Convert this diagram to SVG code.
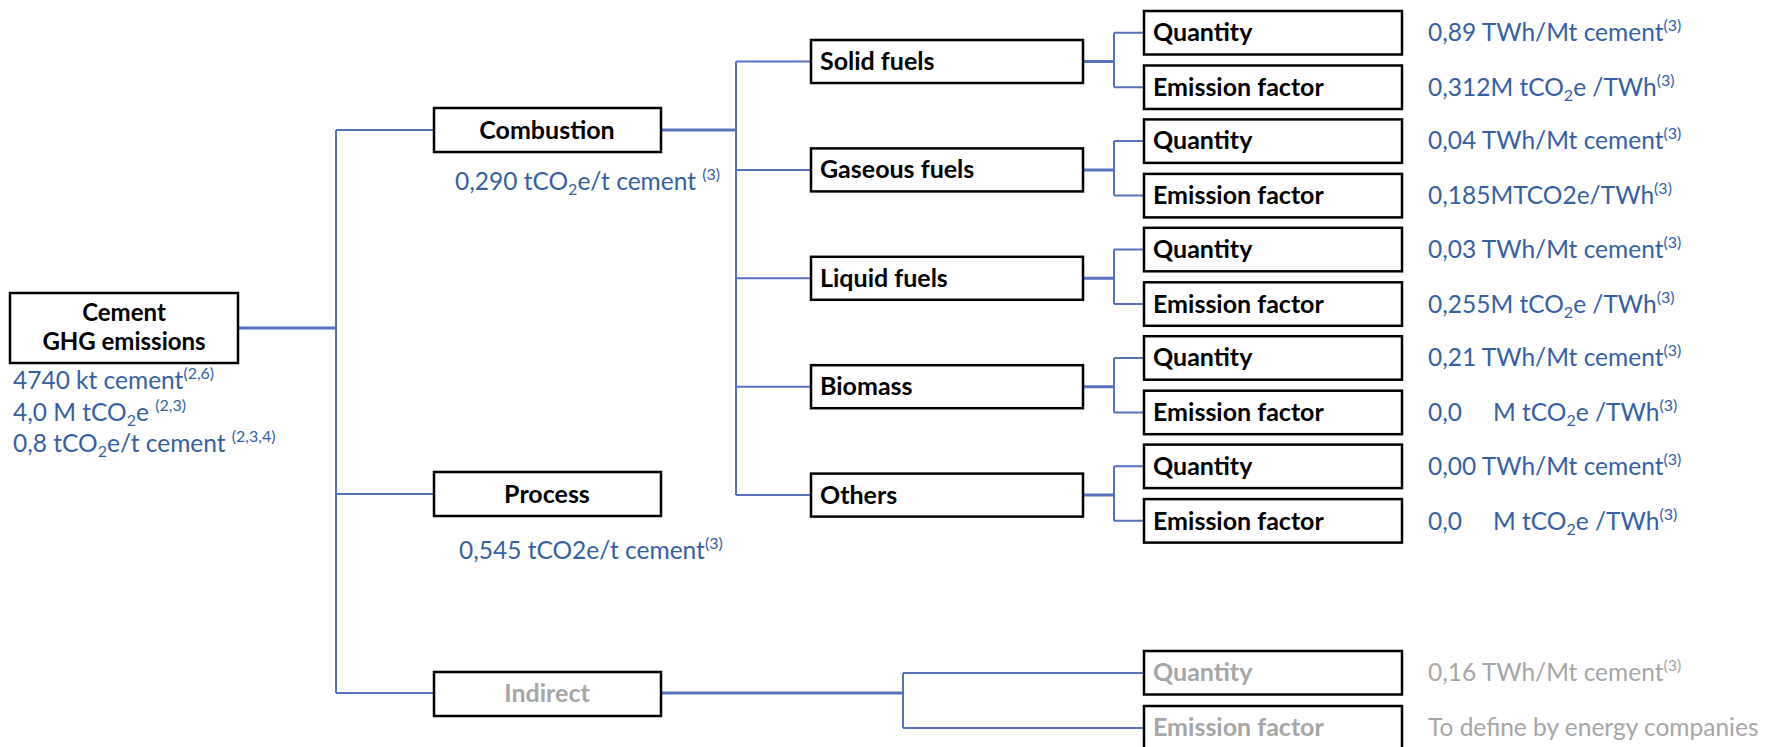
<svg xmlns="http://www.w3.org/2000/svg" width="1768" height="747" viewBox="0 0 1768 747">
<style>
.box{fill:#fff;stroke:#000;stroke-width:2.5}
.ln{fill:none;stroke:#5672BE;stroke-width:2}
.lnb{fill:none;stroke:#5672BE;stroke-width:3}
.lbl{font-family:Lato,"Liberation Sans",sans-serif;font-weight:bold;font-size:25px;fill:#000}
.cl{font-size:24px}
.gl{fill:#A6A6A6}
.val{font-family:Lato,"Liberation Sans",sans-serif;font-size:24.5px;fill:#3560A6}
.gv{fill:#A6A6A6}
.sup{font-size:16px}
.mid{text-anchor:middle}
</style>
<g id="connectors">
<path class="lnb" d="M238 328H336"/>
<path class="ln" d="M336 130V693"/>
<path class="ln" d="M336 130H434M336 494H434M336 693H434"/>
<path class="lnb" d="M661 130H736"/>
<path class="ln" d="M736 61.5V495"/>
<path class="ln" d="M736 61.5H811M736 169.9H811M736 278.3H811M736 386.7H811M736 495.1H811"/>
<path class="lnb" d="M1083 61.5H1114M1083 169.9H1114M1083 278.3H1114M1083 386.7H1114M1083 495.1H1114"/>
<path class="ln" d="M1114 32.7V87.2M1114 141.1V195.6M1114 249.5V304M1114 357.9V412.4M1114 466.3V520.8"/>
<path class="ln" d="M1114 32.7H1144M1114 87.2H1144M1114 141.1H1144M1114 195.6H1144M1114 249.5H1144M1114 304H1144M1114 357.9H1144M1114 412.4H1144M1114 466.3H1144M1114 520.8H1144"/>
<path class="lnb" d="M661 693H903"/>
<path class="ln" d="M903 673V728M903 673H1144M903 728H1144"/>
</g>
<g id="cement">
<rect class="box" x="10" y="293" width="228" height="70"/>
<text class="lbl cl mid" x="124" y="321">Cement</text>
<text class="lbl cl mid" x="124" y="350">GHG emissions</text>
<text class="val" x="13" y="389">4740 kt cement<tspan class="sup" dy="-10">(2,6)</tspan></text>
<text class="val" x="13" y="421">4,0 M tCO<tspan class="sup" dy="5">2</tspan><tspan dy="-5">e </tspan><tspan class="sup" dy="-10">(2,3)</tspan></text>
<text class="val" x="13" y="452">0,8 tCO<tspan class="sup" dy="5">2</tspan><tspan dy="-5">e/t cement </tspan><tspan class="sup" dy="-10">(2,3,4)</tspan></text>
</g>
<g id="combustion">
<rect class="box" x="434" y="108" width="227" height="44"/>
<text class="lbl mid" x="547" y="139">Combustion</text>
<text class="val" x="455" y="190">0,290 tCO<tspan class="sup" dy="5">2</tspan><tspan dy="-5">e/t cement </tspan><tspan class="sup" dy="-10">(3)</tspan></text>
</g>
<g id="process">
<rect class="box" x="434" y="472" width="227" height="44"/>
<text class="lbl mid" x="547" y="503">Process</text>
<text class="val" x="459" y="559">0,545 tCO2e/t cement<tspan class="sup" dy="-10">(3)</tspan></text>
</g>
<g id="indirect">
<rect class="box" x="434" y="672" width="227" height="44"/>
<text class="lbl gl mid" x="547" y="702">Indirect</text>
</g>
<g id="solid-fuels">
<rect class="box" x="811" y="40" width="272" height="43"/>
<text class="lbl" x="820" y="70">Solid fuels</text>
</g>
<g id="solid-quantity">
<rect class="box" x="1144" y="11" width="258" height="43.5"/>
<text class="lbl" x="1153" y="41">Quantity</text>
<text class="val" x="1428" y="41">0,89 TWh/Mt cement<tspan class="sup" dy="-10">(3)</tspan></text>
</g>
<g id="solid-ef">
<rect class="box" x="1144" y="65.5" width="258" height="43.5"/>
<text class="lbl" x="1153" y="96">Emission factor</text>
<text class="val" x="1428" y="96">0,312M tCO<tspan class="sup" dy="5">2</tspan><tspan dy="-5">e /TWh</tspan><tspan class="sup" dy="-10">(3)</tspan></text>
</g>
<g id="gaseous-fuels">
<rect class="box" x="811" y="148.4" width="272" height="43"/>
<text class="lbl" x="820" y="178.4">Gaseous fuels</text>
</g>
<g id="gaseous-quantity">
<rect class="box" x="1144" y="119.4" width="258" height="43.5"/>
<text class="lbl" x="1153" y="149.4">Quantity</text>
<text class="val" x="1428" y="149.4">0,04 TWh/Mt cement<tspan class="sup" dy="-10">(3)</tspan></text>
</g>
<g id="gaseous-ef">
<rect class="box" x="1144" y="173.9" width="258" height="43.5"/>
<text class="lbl" x="1153" y="204.4">Emission factor</text>
<text class="val" x="1428" y="204.4">0,185MTCO2e/TWh<tspan class="sup" dy="-10">(3)</tspan></text>
</g>
<g id="liquid-fuels">
<rect class="box" x="811" y="256.8" width="272" height="43"/>
<text class="lbl" x="820" y="286.8">Liquid fuels</text>
</g>
<g id="liquid-quantity">
<rect class="box" x="1144" y="227.8" width="258" height="43.5"/>
<text class="lbl" x="1153" y="257.8">Quantity</text>
<text class="val" x="1428" y="257.8">0,03 TWh/Mt cement<tspan class="sup" dy="-10">(3)</tspan></text>
</g>
<g id="liquid-ef">
<rect class="box" x="1144" y="282.3" width="258" height="43.5"/>
<text class="lbl" x="1153" y="312.8">Emission factor</text>
<text class="val" x="1428" y="312.8">0,255M tCO<tspan class="sup" dy="5">2</tspan><tspan dy="-5">e /TWh</tspan><tspan class="sup" dy="-10">(3)</tspan></text>
</g>
<g id="biomass">
<rect class="box" x="811" y="365.2" width="272" height="43"/>
<text class="lbl" x="820" y="395.2">Biomass</text>
</g>
<g id="biomass-quantity">
<rect class="box" x="1144" y="336.2" width="258" height="43.5"/>
<text class="lbl" x="1153" y="366.2">Quantity</text>
<text class="val" x="1428" y="366.2">0,21 TWh/Mt cement<tspan class="sup" dy="-10">(3)</tspan></text>
</g>
<g id="biomass-ef">
<rect class="box" x="1144" y="390.7" width="258" height="43.5"/>
<text class="lbl" x="1153" y="421.2">Emission factor</text>
<text class="val" x="1428" y="421.2">0,0<tspan x="1493">M tCO</tspan><tspan class="sup" dy="5">2</tspan><tspan dy="-5">e /TWh</tspan><tspan class="sup" dy="-10">(3)</tspan></text>
</g>
<g id="others">
<rect class="box" x="811" y="473.6" width="272" height="43"/>
<text class="lbl" x="820" y="503.6">Others</text>
</g>
<g id="others-quantity">
<rect class="box" x="1144" y="444.6" width="258" height="43.5"/>
<text class="lbl" x="1153" y="474.6">Quantity</text>
<text class="val" x="1428" y="474.6">0,00 TWh/Mt cement<tspan class="sup" dy="-10">(3)</tspan></text>
</g>
<g id="others-ef">
<rect class="box" x="1144" y="499.1" width="258" height="43.5"/>
<text class="lbl" x="1153" y="529.6">Emission factor</text>
<text class="val" x="1428" y="529.6">0,0<tspan x="1493">M tCO</tspan><tspan class="sup" dy="5">2</tspan><tspan dy="-5">e /TWh</tspan><tspan class="sup" dy="-10">(3)</tspan></text>
</g>
<g id="indirect-quantity">
<rect class="box" x="1144" y="651" width="258" height="43.5"/>
<text class="lbl gl" x="1153" y="681">Quantity</text>
<text class="val gv" x="1428" y="681">0,16 TWh/Mt cement<tspan class="sup" dy="-10">(3)</tspan></text>
</g>
<g id="indirect-ef">
<rect class="box" x="1144" y="706" width="258" height="45"/>
<text class="lbl gl" x="1153" y="736">Emission factor</text>
<text class="val gv" x="1428" y="736">To define by energy companies</text>
</g>
</svg>
